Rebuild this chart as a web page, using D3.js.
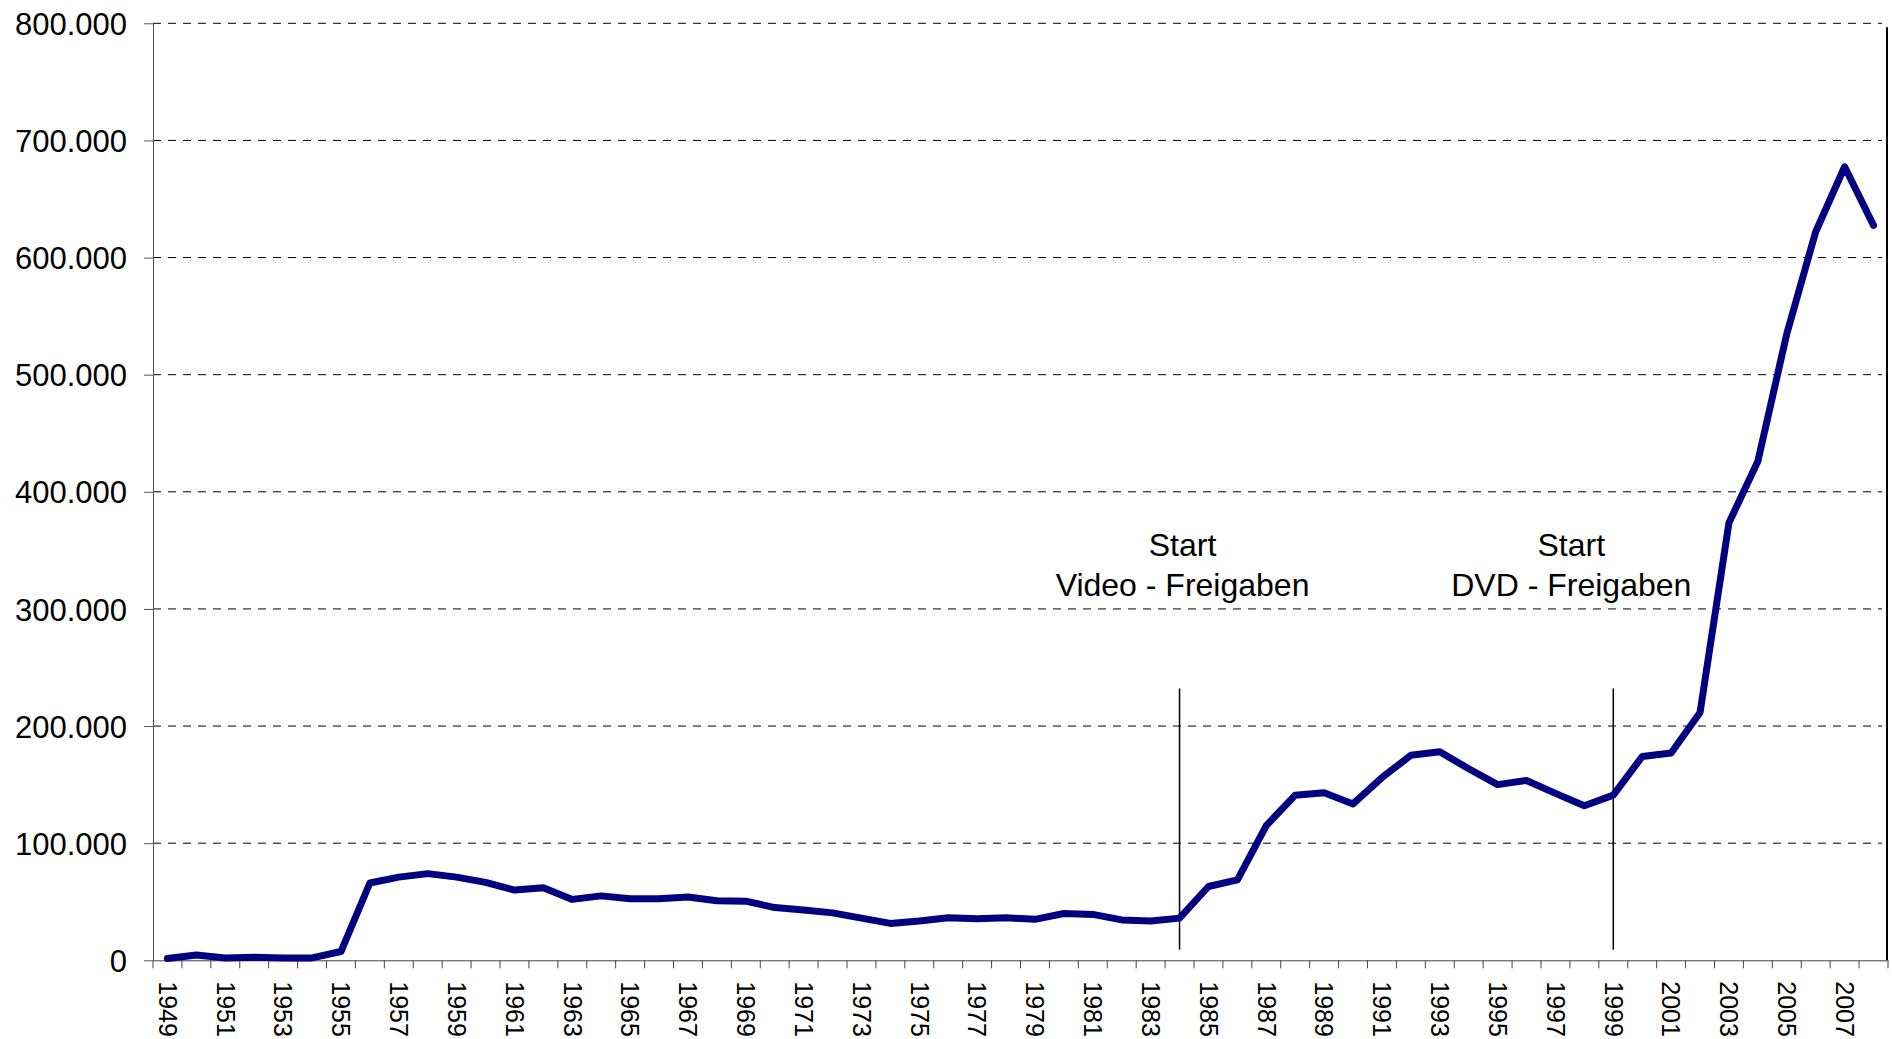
<!DOCTYPE html>
<html>
<head>
<meta charset="utf-8">
<script src="https://cdn.jsdelivr.net/npm/d3@7.9.0/dist/d3.min.js"></script>
<style>
  html, body { margin: 0; padding: 0; background: #fff; }
  svg text { font-family: "Liberation Sans", Arial, sans-serif; fill: #000; }
</style>
</head>
<body>
<div id="chart"></div>
<script>
// --- Data ---
const years = [
  1949, 1950, 1951, 1952, 1953, 1954, 1955, 1956, 1957, 1958,
  1959, 1960, 1961, 1962, 1963, 1964, 1965, 1966, 1967, 1968,
  1969, 1970, 1971, 1972, 1973, 1974, 1975, 1976, 1977, 1978,
  1979, 1980, 1981, 1982, 1983, 1984, 1985, 1986, 1987, 1988,
  1989, 1990, 1991, 1992, 1993, 1994, 1995, 1996, 1997, 1998,
  1999, 2000, 2001, 2002, 2003, 2004, 2005, 2006, 2007, 2008
];
const values = [
  1500, 4500, 2000, 2500, 2000, 2000, 7500, 66000, 71000, 74000,
  71000, 66500, 60000, 62000, 52000, 55000, 52500, 52500, 54000, 50800,
  50500, 45000, 43000, 40500, 36000, 31500, 33500, 36300, 35400, 36300,
  35000, 40000, 39200, 34500, 33500, 36000, 63000, 68700, 115000, 141000,
  143000, 133500, 156000, 175000, 178000, 163500, 150000, 153500, 142500, 132000,
  141000, 174000, 177000, 211500, 373500, 426000, 535000, 622000, 677500, 627500
];
const yTicks = [0, 100000, 200000, 300000, 400000, 500000, 600000, 700000, 800000];
const xLabelYears = [
  1949, 1951, 1953, 1955, 1957, 1959, 1961, 1963, 1965, 1967,
  1969, 1971, 1973, 1975, 1977, 1979, 1981, 1983, 1985, 1987,
  1989, 1991, 1993, 1995, 1997, 1999, 2001, 2003, 2005, 2007
];
const markerYears = [1984, 1999];
const markerLabels = [
  ["Start", "Video - Freigaben"],
  ["Start", "DVD - Freigaben"]
];
const markerRange = [9000, 232000]; // value span of the vertical marker lines
const markerTextValue = 345000;    // value level of first label line

// --- Layout ---
const W = 1892;
const H = 1039;
const LEFT = 153;
const RIGHT = 1888;
const TOP = 23.3;
const BOTTOM = 960.3;
const LINE_COLOR = "#000080";

const x = d3.scaleBand().domain(years).range([LEFT, RIGHT]).padding(0);
const y = d3.scaleLinear().domain([0, 800000]).range([BOTTOM, TOP]);
const cx = (d) => x(d) + x.bandwidth() / 2;

const de = d3.formatLocale({ decimal: ",", thousands: ".", grouping: [3], currency: ["", " €"] });
const fmt = de.format(",");

const svg = d3.select("#chart").append("svg")
  .attr("width", W)
  .attr("height", H)
  .style("display", "block");

// gridlines
svg.append("g")
  .selectAll("line")
  .data(yTicks.filter((d) => d > 0))
  .join("line")
  .attr("x1", LEFT)
  .attr("x2", RIGHT - 6)
  .attr("y1", (d) => y(d))
  .attr("y2", (d) => y(d))
  .attr("stroke", "#000")
  .attr("stroke-width", 1)
  .attr("stroke-dasharray", "8,7");

// right border of plot area
svg.append("line")
  .attr("x1", RIGHT - 1)
  .attr("x2", RIGHT - 1)
  .attr("y1", TOP + 4)
  .attr("y2", BOTTOM)
  .attr("stroke", "#000")
  .attr("stroke-width", 2);

// y axis
const yAxis = svg.append("g")
  .attr("transform", `translate(${LEFT},0)`)
  .call(d3.axisLeft(y).tickValues(yTicks).tickFormat(fmt).tickSize(9).tickSizeOuter(0).tickPadding(17));
yAxis.select(".domain").attr("stroke", "#555");
yAxis.selectAll(".tick line").attr("stroke", "#555");
yAxis.selectAll("text")
  .style("font-size", "31px")
  .attr("dy", "0.36em");

// x axis: labels at band centres, ticks at band boundaries
const xAxis = svg.append("g")
  .attr("transform", `translate(0,${BOTTOM})`)
  .call(d3.axisBottom(x).tickValues(xLabelYears).tickSize(0).tickSizeOuter(0));
xAxis.select(".domain").attr("stroke", "#444");
xAxis.selectAll("text")
  .style("font-size", "25px")
  .attr("text-anchor", "start")
  .attr("transform", "rotate(90)")
  .attr("x", 21)
  .attr("y", 0)
  .attr("dy", "0.35em");

xAxis.append("g")
  .selectAll("line")
  .data(years.concat([null]))
  .join("line")
  .attr("x1", (d) => (d === null ? RIGHT : x(d)))
  .attr("x2", (d) => (d === null ? RIGHT : x(d)))
  .attr("y1", 0)
  .attr("y2", 8)
  .attr("stroke", "#444");

// marker lines + labels
const textShift = [3, -42];
markerYears.forEach((yr, i) => {
  svg.append("line")
    .attr("x1", cx(yr))
    .attr("x2", cx(yr))
    .attr("y1", y(markerRange[1]))
    .attr("y2", y(markerRange[0]))
    .attr("stroke", "#000")
    .attr("stroke-width", 1.5);

  svg.append("text")
    .attr("x", cx(yr) + textShift[i])
    .attr("y", y(markerTextValue))
    .attr("text-anchor", "middle")
    .style("font-size", "32px")
    .selectAll("tspan")
    .data(markerLabels[i])
    .join("tspan")
    .attr("x", cx(yr) + textShift[i])
    .attr("dy", (d, j) => (j === 0 ? 0 : 40))
    .text((d) => d);
});

// data line
const line = d3.line()
  .x((d, i) => cx(years[i]))
  .y((d) => y(d));

svg.append("path")
  .datum(values)
  .attr("fill", "none")
  .attr("stroke", LINE_COLOR)
  .attr("stroke-width", 7)
  .attr("stroke-linejoin", "round")
  .attr("stroke-linecap", "round")
  .attr("d", line);
</script>
</body>
</html>
